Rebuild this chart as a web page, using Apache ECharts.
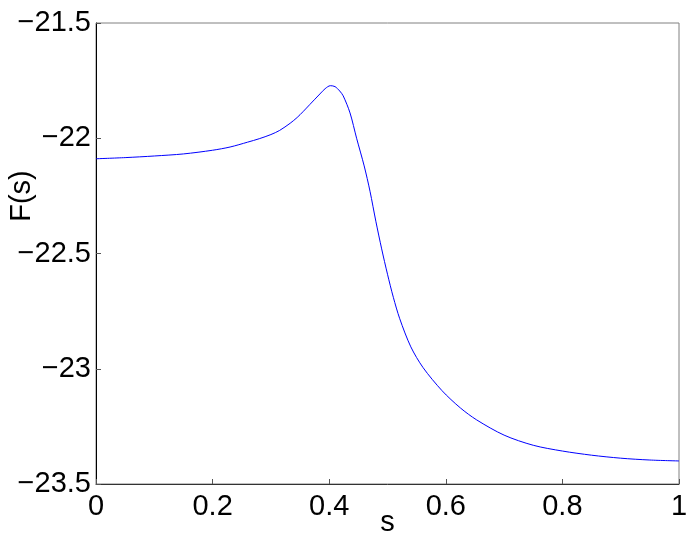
<!DOCTYPE html>
<html>
<head>
<meta charset="utf-8">
<script src="https://cdn.jsdelivr.net/npm/echarts@6/dist/echarts.min.js"></script>
<style>
html,body{margin:0;padding:0;background:#fff;}
#chart{width:694px;height:545px;}
</style>
</head>
<body>
<div id="chart"></div>
<script>
var sValues = [0, 0.05, 0.1, 0.15, 0.2, 0.23, 0.26, 0.28, 0.3, 0.315, 0.333, 0.345, 0.355, 0.367, 0.384, 0.393, 0.402, 0.41, 0.418, 0.424, 0.4357, 0.447, 0.46, 0.47, 0.48, 0.49, 0.5, 0.51, 0.521, 0.54, 0.561, 0.5935, 0.625, 0.653, 0.7, 0.75, 0.8, 0.85, 0.9, 0.95, 1];
var fValues = [-22.089, -22.084, -22.077, -22.068, -22.052, -22.038, -22.017, -22.002, -21.984, -21.966, -21.935, -21.91, -21.885, -21.853, -21.808, -21.785, -21.772, -21.776, -21.795, -21.816, -21.89, -22.00, -22.12, -22.23, -22.36, -22.48, -22.59, -22.69, -22.783, -22.905, -22.995, -23.095, -23.17, -23.222, -23.288, -23.332, -23.357, -23.375, -23.388, -23.396, -23.40];
var xTicks = [0, 0.2, 0.4, 0.6, 0.8, 1];
var yTicks = [-23.5, -23, -22.5, -22, -21.5];
var xLabel = 's';
var yLabel = 'F(s)';

var data = sValues.map(function (s, i) { return [s, fValues[i]]; });
var font = 'Liberation Sans, Arial, Helvetica, sans-serif';
function fmt(v) { return String(v).replace('-', '\u2212'); }

var chart = echarts.init(document.getElementById('chart'), null, {renderer: 'canvas'});
chart.setOption({
  animation: false,
  backgroundColor: '#fff',
  grid: {left: 96, top: 23, width: 583, height: 461, containLabel: false, outerBoundsMode: 'none',
         show: true, borderColor: '#808080', borderWidth: 1, backgroundColor: 'transparent'},
  xAxis: {
    type: 'value', min: xTicks[0], max: xTicks[xTicks.length - 1], interval: 0.2,
    name: xLabel, nameLocation: 'middle', nameGap: 24, nameMoveOverlap: false,
    nameTextStyle: {fontFamily: font, fontSize: 29, color: '#000'},
    axisLine: {show: true, onZero: false, lineStyle: {color: '#333', width: 1}},
    axisTick: {show: true, inside: true, length: 5, lineStyle: {color: '#555'}},
    axisLabel: {margin: 8, fontFamily: font, fontSize: 29, color: '#000', formatter: fmt, showMinLabel: true, showMaxLabel: true},
    splitLine: {show: false}
  },
  yAxis: {
    type: 'value', min: yTicks[0], max: yTicks[yTicks.length - 1], interval: 0.5,
    axisLine: {show: true, onZero: false, lineStyle: {color: '#000', width: 1}},
    axisTick: {show: true, inside: true, length: 5, lineStyle: {color: '#555'}},
    axisLabel: {margin: 5, fontFamily: font, fontSize: 29, color: '#000', formatter: fmt},
    splitLine: {show: false}
  },
  graphic: [{
    type: 'text', x: 22, y: 196, rotation: Math.PI / 2,
    style: {text: yLabel, fontFamily: font, fontSize: 29, fill: '#000', textAlign: 'center', textVerticalAlign: 'middle'}
  }],
  series: [{
    type: 'line', data: data, showSymbol: false, smooth: 0.3,
    lineStyle: {color: '#0000ff', width: 1}
  }]
});
</script>
</body>
</html>
